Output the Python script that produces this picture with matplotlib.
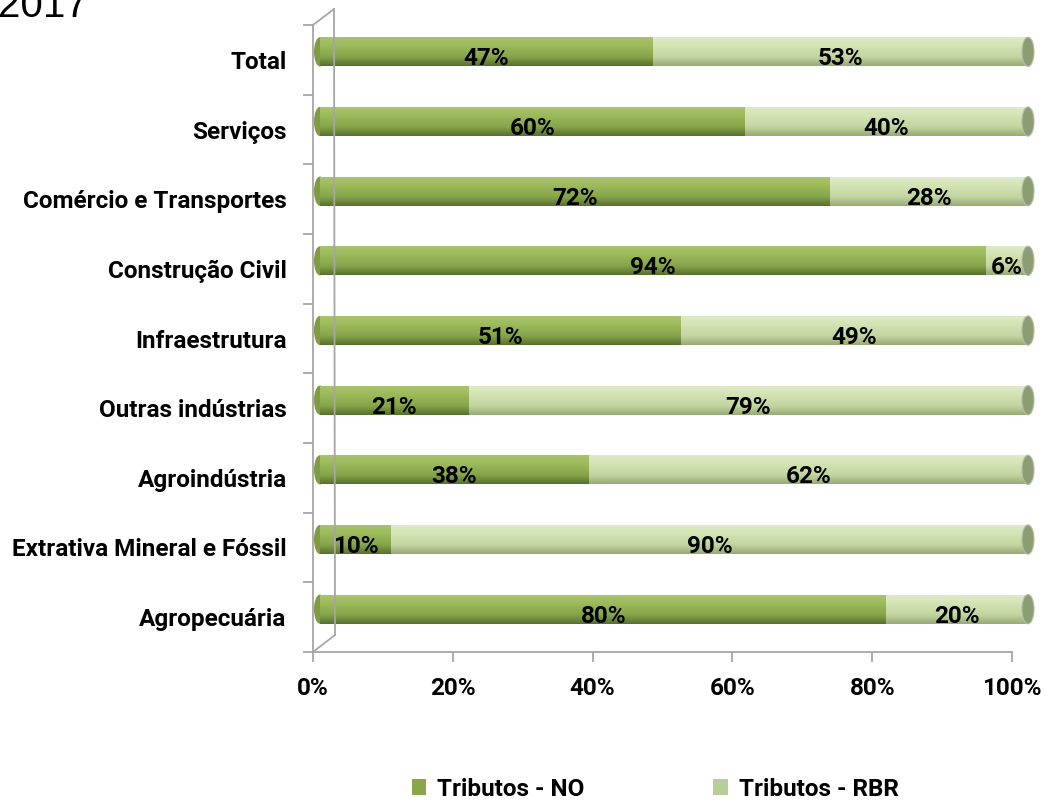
import numpy as np
import matplotlib
matplotlib.use("Agg")
import matplotlib.pyplot as plt
from matplotlib.colors import LinearSegmentedColormap
from matplotlib.patches import Ellipse, Patch
from matplotlib.lines import Line2D

# data (top to bottom as shown)
categories = ["Total", "Serviços", "Comércio e Transportes", "Construção Civil",
              "Infraestrutura", "Outras indústrias", "Agroindústria",
              "Extrativa Mineral e Fóssil", "Agropecuária"]
tributos_no = [47, 60, 72, 94, 51, 21, 38, 10, 80]
tributos_rbr = [53, 40, 28, 6, 49, 79, 62, 90, 20]
x_ticks = [0, 20, 40, 60, 80, 100]

FONT = "Roboto"
FS = 17.5
GRAY = "#a6a6a6"

W, H = 1045, 801
fig = plt.figure(figsize=(W / 100, H / 100), dpi=100)


def px_box(l, t, r, b):
    return [l / W, 1 - b / H, (r - l) / W, (b - t) / H]


# front axes (floor + left wall)
ax = fig.add_axes(px_box(313, 25, 1012, 652))
ax.set_xlim(0, 100)
ax.set_ylim(len(categories) - 0.5, -0.5)
ax.patch.set_visible(False)
for s in ["top", "right"]:
    ax.spines[s].set_visible(False)
for s in ["left", "bottom"]:
    ax.spines[s].set_color(GRAY)
    ax.spines[s].set_linewidth(1.3)
ax.set_yticks(range(len(categories)))
ax.set_yticklabels(categories, fontfamily=FONT, fontweight="bold", fontsize=FS)
ax.set_yticks(np.arange(-0.5, len(categories)), minor=True)
ax.tick_params(axis="y", which="major", length=0, pad=19)
ax.tick_params(axis="y", which="minor", length=7, width=1.3, color=GRAY)
ax.set_xticks(x_ticks)
ax.set_xticklabels([f"{v}%" for v in x_ticks], fontfamily=FONT,
                   fontweight="bold", fontsize=FS)
ax.tick_params(axis="x", length=7, width=1.3, color=GRAY, pad=11)

# back wall lines
wall = [((313, 25), (334, 9)), ((334, 9), (335, 635)), ((313, 652), (335, 635))]
for (x0, y0), (x1, y1) in wall:
    fig.add_artist(Line2D([x0 / W, x1 / W], [1 - y0 / H, 1 - y1 / H],
                          transform=fig.transFigure, color=GRAY, lw=1.3))

# bars axes (shifted in depth)
axb = fig.add_axes(px_box(320, 17, 1028, 644))
axb.set_xlim(0, 100)
axb.set_ylim(len(categories) - 0.5, -0.5)
axb.axis("off")

cmap_no = LinearSegmentedColormap.from_list(
    "no", [(0, "#aac46f"), (0.3, "#9dbb5b"), (0.7, "#86a44a"), (1, "#56712f")])
cmap_rbr = LinearSegmentedColormap.from_list(
    "rbr", [(0, "#e0eacd"), (0.3, "#d4e4b4"), (0.7, "#c2d59f"), (1, "#97aa77")])
grad = np.linspace(0, 1, 64).reshape(-1, 1)
bh = 0.42

y = np.arange(len(categories))
bars_no = axb.barh(y, tributos_no, height=bh, color="#9bbb59", zorder=2)
bars_rbr = axb.barh(y, tributos_rbr, left=tributos_no, height=bh,
                    color="#d7e4bd", zorder=2)

for bars, cmap in [(bars_no, cmap_no), (bars_rbr, cmap_rbr)]:
    for b in bars:
        x0, yc, w = b.get_x(), b.get_y() + bh / 2, b.get_width()
        im = axb.imshow(grad, cmap=cmap, aspect="auto", origin="upper",
                        extent=(x0, x0 + w, yc + bh / 2, yc - bh / 2), zorder=3)
        im.set_clip_path(b)

for i in range(len(categories)):
    axb.add_patch(Ellipse((0, i), 1.7, bh, facecolor="#7f9c45",
                          edgecolor="none", zorder=1, clip_on=False))
    total = tributos_no[i] + tributos_rbr[i]
    axb.add_patch(Ellipse((total, i), 1.7, bh, facecolor="#8b9d72",
                          edgecolor="#b5bda5", lw=0.8, zorder=4, clip_on=False))

for i in range(len(categories)):
    n, r = tributos_no[i], tributos_rbr[i]
    for xc, v in [(n / 2, n), (n + r / 2, r)]:
        axb.annotate(f"{v}%", (xc, i), xytext=(0, -5), textcoords="offset points",
                     ha="center", va="center", fontfamily=FONT,
                     fontweight="bold", fontsize=FS, zorder=6)

axb.set_xlim(0, 100)
axb.set_ylim(len(categories) - 0.5, -0.5)

# title fragment (cut at the top, as in the source image)
fig.text(-0.002, 1 - 17 / H, "2017", fontfamily="Liberation Sans",
         fontsize=29, va="baseline", ha="left")

handles = [Patch(facecolor="#8aa64a", label="Tributos - NO"),
           Patch(facecolor="#b9cd96", label="Tributos - RBR")]
leg = fig.legend(handles=handles, loc="center", bbox_to_anchor=(0.627, 1 - 789 / H),
                 ncol=2, frameon=False, handlelength=0.6, handleheight=0.6,
                 handletextpad=0.45, columnspacing=5.3,
                 prop={"family": FONT, "weight": "bold", "size": FS})

fig.savefig("out.png", dpi=100)
